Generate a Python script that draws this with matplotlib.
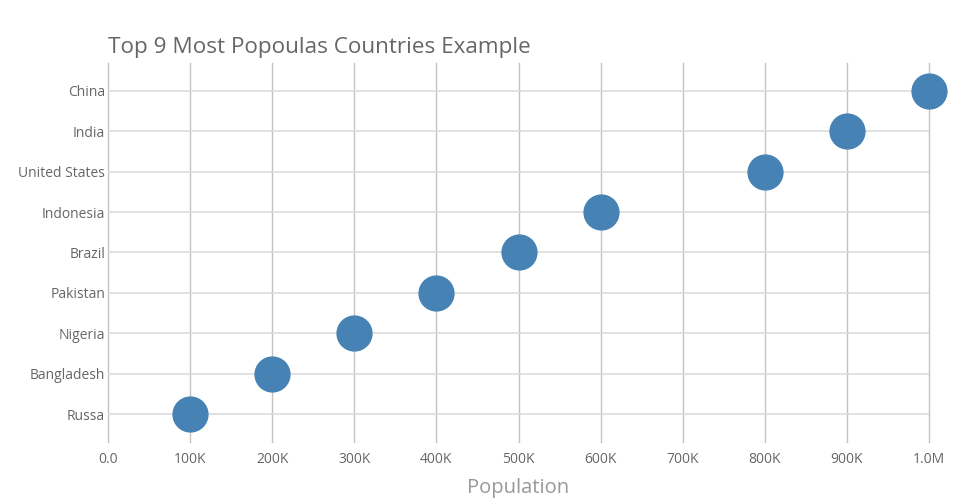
import numpy as np
import matplotlib.pyplot as plt
from matplotlib.ticker import FuncFormatter

plt.rcParams['font.family'] = ['Open Sans', 'DejaVu Sans']

# data, bottom to top
countries = ['Russa', 'Bangladesh', 'Nigeria', 'Pakistan', 'Brazil',
             'Indonesia', 'United States', 'India', 'China']
population = [100000, 200000, 300000, 400000, 500000,
              600000, 800000, 900000, 1000000]
xticks = [0, 100000, 200000, 300000, 400000, 500000, 600000, 700000, 800000, 900000, 1000000]


def fmt(v, pos):
    if v == 0:
        return '0.0'
    if v >= 1e6:
        return '%.1fM' % (v / 1e6)
    return '%dK' % (v / 1e3)


fig = plt.figure(figsize=(9.6, 5), dpi=100)
ax = fig.add_axes([108 / 960, 1 - 442 / 500, (929 - 108) / 960, (442 - 63) / 500])

y = np.arange(len(countries))
ax.scatter(population, y, s=680, color='#4682b4', zorder=3, clip_on=False, linewidths=0)

ax.set_xlim(0, 1e6)
ax.set_ylim(-0.69, len(countries) - 1 + 0.69)
ax.set_yticks(y)
ax.set_yticklabels(countries)
ax.set_xticks(xticks)
ax.xaxis.set_major_formatter(FuncFormatter(fmt))

for s in ax.spines.values():
    s.set_visible(False)
ax.tick_params(length=0, labelsize=10, colors='#666666', pad=7)
ax.tick_params(axis='y', pad=2)

for v in xticks:
    ax.axvline(v, color='#c4c2be', lw=1, zorder=1, clip_on=False)
for yy in y:
    ax.axhline(yy, color='#dcdcdc', lw=1.2, zorder=1)

ax.set_xlabel('Population', fontsize=14.5, color='#999999', labelpad=8)
fig.text(108 / 960, 1 - 47 / 500, 'Top 9 Most Popoulas Countries Example',
         fontsize=16.2, color='#666666', va='center', ha='left')

fig.savefig('out.png', dpi=100)
